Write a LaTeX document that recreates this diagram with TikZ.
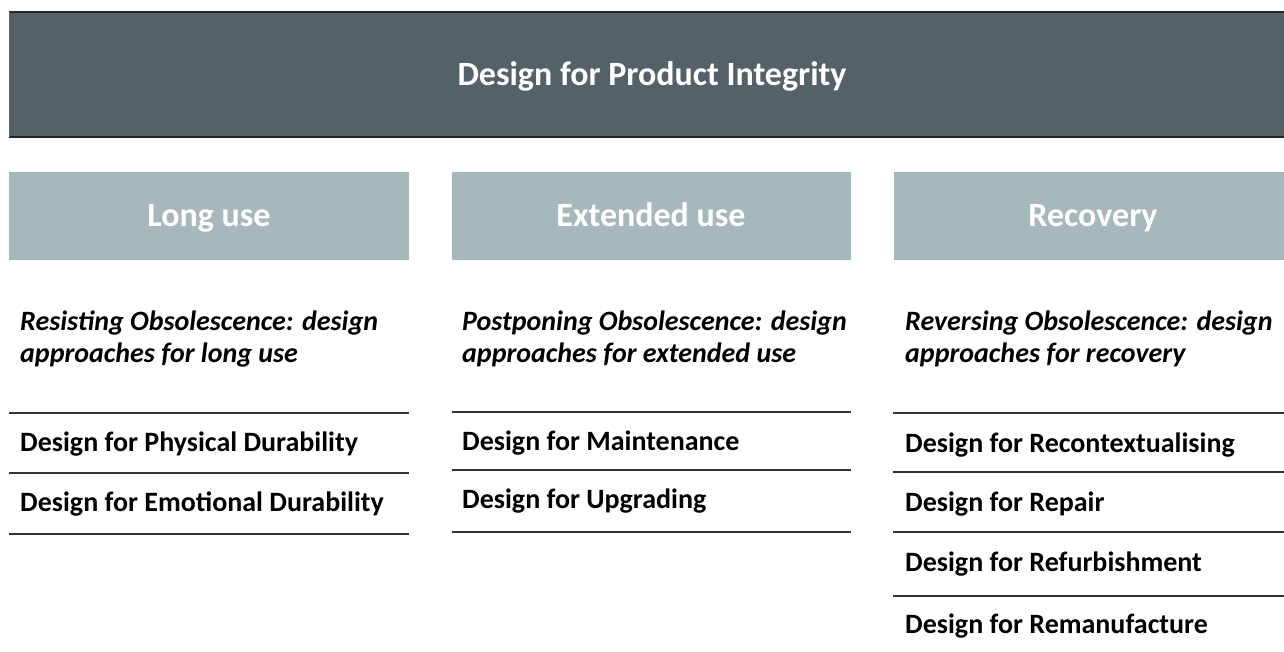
\documentclass[tikz,border=0pt]{standalone}
\usepackage{fontspec}
\setmainfont{Carlito}
\definecolor{banner}{HTML}{546268}
\definecolor{head}{HTML}{A7B8BC}
\definecolor{rule}{HTML}{333333}
\begin{document}
\begin{tikzpicture}[x=1pt,y=-1pt,
  titletxt/.style={anchor=base, text=white, inner sep=0pt, font=\bfseries\fontsize{34}{40}\selectfont},
  headtxt/.style={anchor=base, text=white, inner sep=0pt, font=\bfseries\fontsize{34}{40}\selectfont},
  subtxt/.style={anchor=base west, align=left, font=\bfseries\itshape\fontsize{28}{32}\selectfont, inner sep=0pt},
  item/.style={anchor=base west, font=\bfseries\fontsize{28}{32}\selectfont, inner sep=0pt},
  sep/.style={draw=rule, line width=1.6pt}]
\useasboundingbox (0,0) rectangle (1284,652);
% banner
\path[fill=banner] (9,12) rectangle (1290,137);
\draw[black!85, line width=1.5pt] (9,12) -- (1290,12);
\draw[black!85, line width=1.5pt] (9,137) -- (1290,137);
\draw[black!60, line width=0.8pt] (9,12) -- (9,137);
\node[titletxt] (title) at (652,86) {Design for Product Integrity};
% headers
\path[fill=head] (9,172) rectangle (409,260);
\path[fill=head] (452,172) rectangle (851,260);
\path[fill=head] (894,172) rectangle (1284,260);
\node[headtxt] (h1) at (209,227) {Long use};
\node[headtxt] (h2) at (651,227) {Extended use};
\node[headtxt] (h3) at (1093,227) {Recovery};
% subtitles
\node[subtxt] (s1) at (20,362) {Resisting Obsolescence: design\\approaches for long use};
\node[subtxt] (s2) at (462,362) {Postponing Obsolescence: design\\approaches for extended use};
\node[subtxt] (s3) at (905,362) {Reversing Obsolescence: design\\approaches for recovery};
% column 1
\draw[sep] (9,413) -- (409,413);
\node[item] (a1) at (20,451) {Design for Physical Durability};
\draw[sep] (9,473) -- (409,473);
\node[item] (a2) at (20,511) {Design for Emotional Durability};
\draw[sep] (9,534) -- (409,534);
% column 2
\draw[sep] (452,412) -- (851,412);
\node[item] (b1) at (462,450) {Design for Maintenance};
\draw[sep] (452,470) -- (851,470);
\node[item] (b2) at (462,508) {Design for Upgrading};
\draw[sep] (452,532) -- (851,532);
% column 3
\draw[sep] (893,413) -- (1284,413);
\node[item] (c1) at (905,452) {Design for Recontextualising};
\draw[sep] (893,472) -- (1284,472);
\node[item] (c2) at (905,511) {Design for Repair};
\draw[sep] (893,532) -- (1284,532);
\node[item] (c3) at (905,571) {Design for Refurbishment};
\draw[sep] (893,596) -- (1284,596);
\node[item] (c4) at (905,633) {Design for Remanufacture};
\end{tikzpicture}
\end{document}
